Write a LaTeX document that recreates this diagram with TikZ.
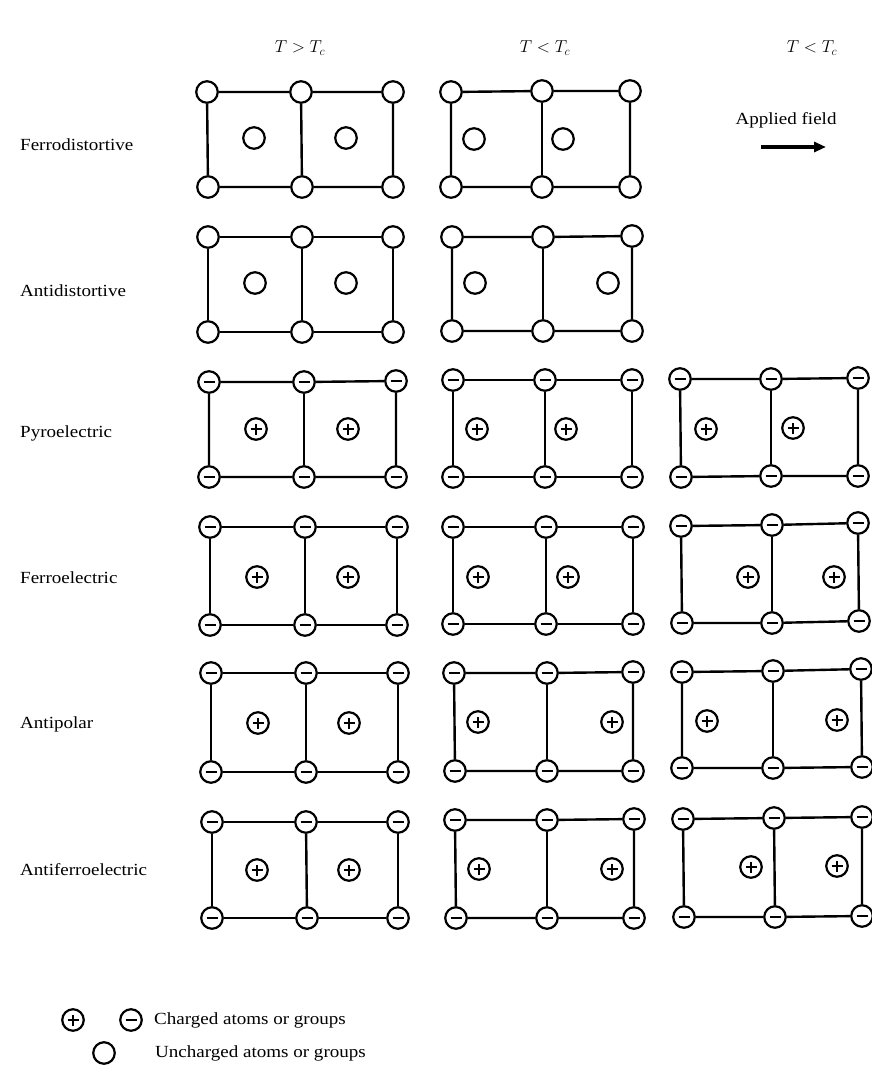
\documentclass[tikz,border=0pt]{standalone}
\usepackage{fontspec}
\setmainfont{Liberation Serif}[FakeStretch=1.12]
\usetikzlibrary{arrows.meta}
\tikzset{
  atom/.style={circle, draw, line width=2.2pt, minimum size=21.5pt, inner sep=0pt, fill=white},
  unch/.style={atom},
  negatom/.style={atom, path picture={\draw[line width=2pt]
      ([xshift=-5.5pt]path picture bounding box.center) -- ([xshift=5.5pt]path picture bounding box.center);}},
  posatom/.style={atom, path picture={\draw[line width=2pt]
      ([xshift=-5.5pt]path picture bounding box.center) -- ([xshift=5.5pt]path picture bounding box.center)
      ([yshift=-5.5pt]path picture bounding box.center) -- ([yshift=5.5pt]path picture bounding box.center);}},
  bond/.style={line width=2.4pt},
  rowlabel/.style={anchor=west, inner sep=0pt, font=\fontsize{17}{20}\selectfont},
  head/.style={inner sep=0pt, font=\fontsize{17}{20}\selectfont},
  legtext/.style={anchor=west, inner sep=0pt, font=\fontsize{17}{20}\selectfont},
}
\newcommand\lat[8]{%
  \node[#2] (#1a) at (#3) {};
  \node[#2] (#1b) at (#4) {};
  \node[#2] (#1c) at (#5) {};
  \node[#2] (#1d) at (#6) {};
  \node[#2] (#1e) at (#7) {};
  \node[#2] (#1f) at (#8) {};
  \draw[bond] (#1a) -- (#1b) -- (#1c) -- (#1f) -- (#1e) -- (#1d) -- (#1a);
  \draw[bond] (#1b) -- (#1e);
}
\newcommand\ins[4]{%
  \node[#2] (#1i) at (#3) {};
  \node[#2] (#1j) at (#4) {};
}
\begin{document}
\begin{tikzpicture}[x=1pt,y=-1pt]
\fill[white] (0,0) rectangle (871,1070);
\useasboundingbox (0,0) rectangle (871,1070);

% headers
\node[head] (h1) at (300,48) {$T > T_c$};
\node[head] (h2) at (545,48) {$T < T_c$};
\node[head] (h3) at (812,48) {$T < T_c$};

% row labels
\node[rowlabel] (l1) at (20,145) {Ferrodistortive};
\node[rowlabel] (l2) at (20,291) {Antidistortive};
\node[rowlabel] (l3) at (20,433) {Pyroelectric};
\node[rowlabel] (l4) at (20,578) {Ferroelectric};
\node[rowlabel] (l5) at (20,724) {Antipolar};
\node[rowlabel] (l6) at (20,870) {Antiferroelectric};

% applied field
\node[legtext, anchor=center] (af) at (786,120) {Applied field};
\coordinate (fa) at (761,147);
\coordinate (fb) at (826,147);
\draw[line width=3.4pt, -{Triangle[length=12pt,width=10pt]}] (fa) -- (fb);

% Row 1: Ferrodistortive
\lat{raA}{unch}{207,92}{301,92}{393,92}{208,187}{302,187}{393,187}
\ins{raA}{unch}{254,138}{346,138}
\lat{raB}{unch}{451,92}{542,91}{630,91}{451,187}{542,187}{630,187}
\ins{raB}{unch}{474,139}{563,139}

% Row 2: Antidistortive
\lat{rbA}{unch}{208,237}{302,237}{393,237}{208,332}{302,332}{393,332}
\ins{rbA}{unch}{255,283}{346,283}
\lat{rbB}{unch}{452,237}{543,237}{632,236}{452,331}{543,331}{632,331}
\ins{rbB}{unch}{475,283}{608,283}

% Row 3: Pyroelectric
\lat{rcA}{negatom}{209,382}{304,382}{396,381}{209,477}{304,477}{396,477}
\ins{rcA}{posatom}{256,429}{348,429}
\lat{rcB}{negatom}{453,380}{545,380}{632,380}{453,477}{545,477}{632,477}
\ins{rcB}{posatom}{477,429}{566,429}
\lat{rcC}{negatom}{680,379}{771,379}{858,378}{681,477}{771,476}{858,476}
\ins{rcC}{posatom}{706,429}{793,428}

% Row 4: Ferroelectric
\lat{rdA}{negatom}{210,527}{305,527}{397,527}{210,625}{305,625}{397,625}
\ins{rdA}{posatom}{257,577}{348,577}
\lat{rdB}{negatom}{453,527}{546,527}{633,527}{453,624}{546,624}{633,624}
\ins{rdB}{posatom}{478,577}{568,577}
\lat{rdC}{negatom}{681,526}{772,525}{858,523}{682,623}{772,623}{859,621}
\ins{rdC}{posatom}{748,577}{834,577}

% Row 5: Antipolar
\lat{reA}{negatom}{211,673}{306,673}{398,673}{211,772}{306,772}{398,772}
\ins{reA}{posatom}{258,723}{349,723}
\lat{reB}{negatom}{454,673}{547,673}{633,672}{455,771}{547,771}{633,771}
\ins{reB}{posatom}{478,722}{612,722}
\lat{reC}{negatom}{682,672}{773,671}{861,669}{682,768}{773,768}{862,767}
\ins{reC}{posatom}{707,721}{837,720}

% Row 6: Antiferroelectric
\lat{rfA}{negatom}{212,822}{306,822}{398,822}{212,918}{307,918}{398,918}
\ins{rfA}{posatom}{257,870}{349,870}
\lat{rfB}{negatom}{455,820}{547,820}{634,819}{456,918}{547,918}{634,918}
\ins{rfB}{posatom}{479,869}{612,869}
\lat{rfC}{negatom}{683,819}{774,818}{862,817}{684,917}{775,917}{862,916}
\ins{rfC}{posatom}{751,867}{837,866}

% legend
\node[posatom] (lgp) at (73,1020) {};
\node[negatom] (lgn) at (131,1020) {};
\node[legtext] (lgt1) at (154,1020) {Charged atoms or groups};
\node[unch] (lgu) at (104,1053) {};
\node[legtext] (lgt2) at (155,1053) {Uncharged atoms or groups};
\end{tikzpicture}
\end{document}
